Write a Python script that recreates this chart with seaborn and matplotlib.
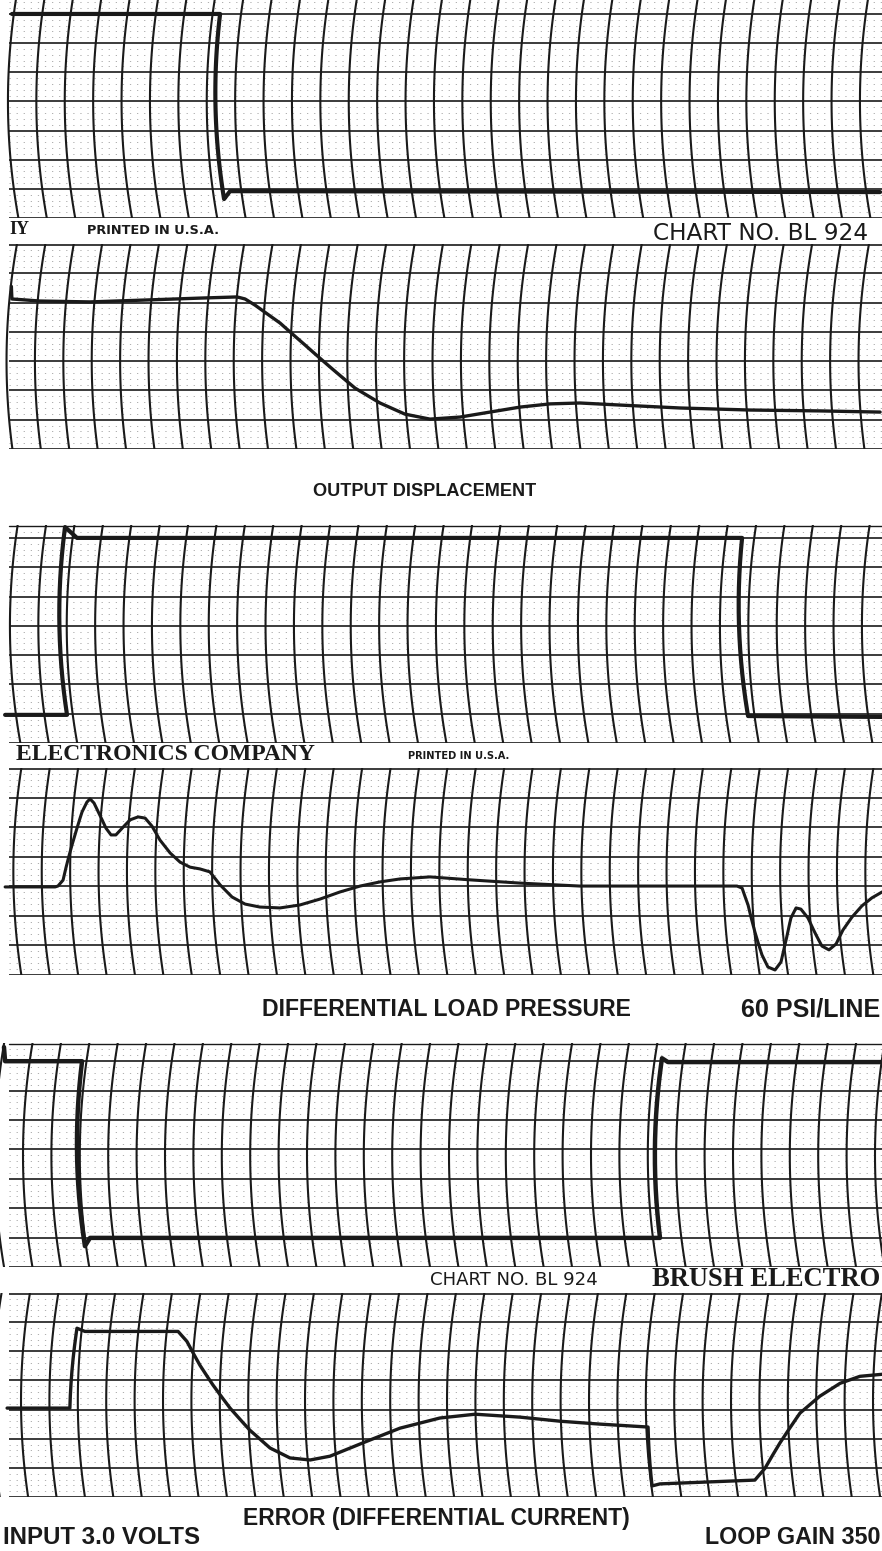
import numpy as np
import pandas as pd
import seaborn as sns
import matplotlib.pyplot as plt

# Brush strip-chart record: six channels. x values are in chart divisions
# (horizontal), amplitudes in chart divisions above each strip's bottom line.

# top step strip (input)
p1_x = [0.42, 7.75, 7.89, 8.10, 30.99]
p1_amp = [7.0, 7.0, 0.65, 0.92, 0.89]

# output displacement
p2_x = [0.40, 0.42, 1.41, 3.17, 5.28, 7.04, 8.35, 8.63, 8.98, 9.86, 10.74,
        11.62, 12.50, 13.38, 14.26, 15.14, 16.20, 17.25, 18.31, 19.37, 20.42,
        21.83, 23.94, 26.41, 28.87, 30.99]
p2_amp = [5.55, 5.12, 5.05, 5.02, 5.09, 5.15, 5.19, 5.12, 4.91, 4.30, 3.55,
          2.80, 2.08, 1.57, 1.19, 1.02, 1.09, 1.26, 1.43, 1.54, 1.57,
          1.50, 1.40, 1.33, 1.30, 1.26]

# second step strip
p3_x = [0.18, 2.36, 2.29, 2.71, 26.13, 26.34, 31.06]
p3_amp = [0.96, 0.96, 7.37, 7.0, 7.0, 0.92, 0.89]

# differential load pressure
p4_x = [0.18, 1.94, 2.04, 2.22, 2.39, 2.64, 2.89, 3.06, 3.17, 3.31, 3.52,
        3.73, 3.91, 4.08, 4.30, 4.58, 4.86, 5.11, 5.35, 5.63, 5.99, 6.34,
        6.69, 7.04, 7.39, 7.75, 8.17, 8.63, 9.15, 9.86, 10.56, 11.27, 11.97,
        12.68, 13.38, 14.08, 15.14, 16.55, 18.31, 20.42, 22.89, 25.95, 26.13,
        26.34, 26.58, 26.83, 27.04, 27.29, 27.50, 27.68, 27.85, 28.03, 28.20,
        28.45, 28.70, 28.94, 29.19, 29.44, 29.68, 30.00, 30.35, 30.70, 31.06]
p4_amp = [2.98, 2.98, 3.01, 3.21, 3.89, 4.74, 5.52, 5.85, 5.96, 5.82, 5.41,
          4.97, 4.74, 4.74, 4.97, 5.25, 5.35, 5.31, 5.04, 4.57, 4.13, 3.82,
          3.65, 3.59, 3.49, 3.05, 2.64, 2.40, 2.30, 2.27, 2.37, 2.57, 2.81,
          3.01, 3.15, 3.25, 3.32, 3.22, 3.11, 3.01, 3.01, 3.01, 2.94,
          2.37, 1.46, 0.68, 0.27, 0.17, 0.44, 1.18, 1.93, 2.27, 2.23,
          1.93, 1.42, 0.98, 0.85, 1.05, 1.52, 1.96, 2.34, 2.61, 2.81]

# third step strip
p5_x = [0.14, 0.18, 2.89, 2.99, 3.17, 23.24, 23.31, 23.52, 31.06]
p5_amp = [7.48, 7.0, 7.0, 0.71, 0.99, 0.99, 7.10, 6.97, 6.97]

# error (differential current)
p6_x = [0.25, 2.46, 2.71, 2.99, 6.27, 6.58, 7.04, 7.50, 8.10, 8.80, 9.51,
        10.21, 10.92, 11.62, 12.68, 14.08, 15.49, 16.73, 18.31, 19.72, 21.13,
        22.82, 22.96, 23.24, 26.58, 26.94, 27.46, 28.17, 28.87, 29.58, 30.28,
        31.06]
p6_amp = [3.05, 3.05, 5.79, 5.68, 5.68, 5.34, 4.52, 3.84, 3.05, 2.29, 1.68,
          1.34, 1.27, 1.40, 1.82, 2.36, 2.71, 2.84, 2.74, 2.60, 2.50,
          2.40, 0.38, 0.45, 0.58, 0.99, 1.85, 2.88, 3.46, 3.90, 4.14,
          4.21]

W, H = 882, 1551
XDIV = 28.4        # px per horizontal division
C = 0.023          # pen-arc curvature

# strip layout in px: bottom line, top edge, px per division, arc vertex, grid phase, trace width
strips = [
    dict(x=p1_x, a=p1_amp, bot=218, top=0, div=29.15, v=4.0, ph=0.28, lw=3.0, border=False),
    dict(x=p2_x, a=p2_amp, bot=449, top=244, div=29.3, v=3.0, ph=0.23, lw=2.4, border=False),
    dict(x=p3_x, a=p3_amp, bot=743, top=525, div=29.3, v=4.0, ph=0.35, lw=3.0, border=True),
    dict(x=p4_x, a=p4_amp, bot=975, top=768, div=29.55, v=3.5, ph=0.47, lw=2.2, border=False),
    dict(x=p5_x, a=p5_amp, bot=1267, top=1043, div=29.4, v=3.8, ph=0.81, lw=3.2, border=True),
    dict(x=p6_x, a=p6_amp, bot=1497, top=1293, div=29.15, v=3.3, ph=0.74, lw=2.4, border=False),
]


def pen_path(x, amp, v):
    x = np.asarray(x, float)
    a = np.asarray(amp, float)
    t = x - C * (a - v) ** 2
    ts, As = [t[0]], [a[0]]
    for i in range(1, len(t)):
        n = max(2, int(abs(a[i] - a[i - 1]) * 12))
        f = np.linspace(0, 1, n + 1)[1:]
        ts.extend(t[i - 1] + f * (t[i] - t[i - 1]))
        As.extend(a[i - 1] + f * (a[i] - a[i - 1]))
    ts, As = np.array(ts), np.array(As)
    return ts + C * (As - v) ** 2, As


sns.set_theme(style="white")
plt.rcParams['font.family'] = ['DejaVu Sans']

fig = plt.figure(figsize=(W / 100, H / 100), dpi=100)
fig.patch.set_facecolor("white")
xmax = W / XDIV

for s in strips:
    hpx = s["bot"] - s["top"]
    ax = fig.add_axes([0, 1 - s["bot"] / H, 1, hpx / H])
    ymax = hpx / s["div"]
    ax.set_xlim(0, xmax)
    ax.set_ylim(0, ymax)
    ax.axis("off")

    # horizontal rulings, major and dotted minor
    for k in range(0, 8):
        if k <= ymax + 0.01:
            yk = min(k, ymax - 0.02)
            ax.plot([0.3, xmax], [yk, yk], color="k", lw=1.2, solid_capstyle="butt")
        for j in range(1, 5):
            ym = k + j / 5
            if ym < ymax - 0.05:
                ax.plot([0.3, xmax], [ym, ym], color="k", lw=0.6, alpha=0.4,
                        ls=(0, (1.5, 7)))
    if s["border"]:
        ax.plot([0.3, xmax], [ymax - 0.03, ymax - 0.03], color="k", lw=1.0)

    # curved time lines (pen arcs)
    aa = np.linspace(0, ymax, 60)
    for k in range(-1, 33):
        ax.plot(s["ph"] + k + C * (aa - s["v"]) ** 2, aa, color="k", lw=1.5)

    # recorded trace
    tx, ty = pen_path(s["x"], s["a"], s["v"])
    sns.lineplot(x=tx, y=ty, ax=ax, color="k", lw=s["lw"], sort=False,
                 estimator=None, solid_joinstyle="round")

renderer = fig.canvas.get_renderer()


def fit_text(s, x0, x1, yc, **kw):
    t = fig.text(x0 / W, 1 - yc / H, s, fontsize=10, va="center", ha="left",
                 color="k", **kw)
    w = t.get_window_extent(renderer).width
    t.set_fontsize(10 * (x1 - x0) / w)
    return t


serif = dict(family=["Liberation Serif", "DejaVu Serif"], weight="bold")
gothic = dict(family=["Liberation Sans", "DejaVu Sans"], weight="bold")
wide = dict(family=["DejaVu Sans"], weight="bold")
plain = dict(family=["DejaVu Sans"], weight="normal")

fit_text("IY", 9, 29, 230, **serif)
fit_text("PRINTED IN U.S.A.", 87, 220, 231, **wide)
fit_text("CHART NO. BL 924", 653, 867, 234, **plain)
fit_text("OUTPUT DISPLACEMENT", 313, 535, 492, **gothic)
fit_text("ELECTRONICS COMPANY", 16, 315, 755, **serif)
fit_text("PRINTED IN U.S.A.", 408, 510, 756, **wide)
fit_text("DIFFERENTIAL LOAD PRESSURE", 262, 630, 1010, **gothic)
fit_text("60 PSI/LINE", 741, 880, 1010, **gothic)
fit_text("CHART NO. BL 924", 430, 598, 1280, **plain)
fit_text("BRUSH ELECTRO", 652, 880, 1280, **serif)
fit_text("ERROR (DIFFERENTIAL CURRENT)", 243, 628, 1519, **gothic)
fit_text("INPUT 3.0 VOLTS", 3, 200, 1537, **gothic)
fit_text("LOOP GAIN 350", 705, 880, 1537, **gothic)

fig.savefig("out.png", dpi=100, facecolor="white")
